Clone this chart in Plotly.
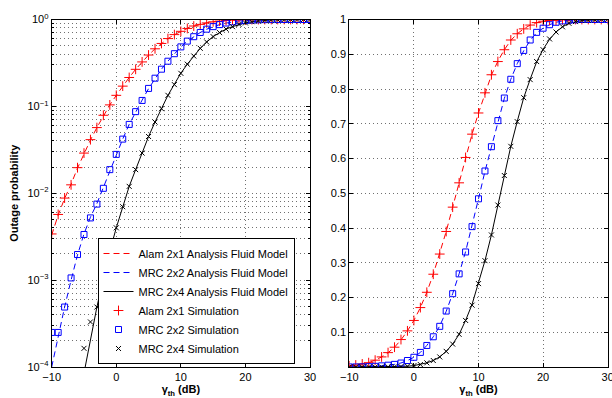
import plotly.graph_objects as go

# ---------------- data ----------------
gamma_db = list(range(-10, 31))

# Simulation points (0 = no outage observed; hidden on the log axis)
alam21_sim = [3.4e-3, 5.7e-3, 8.8e-3, 0.0125, 0.0197, 0.029, 0.0414, 0.057, 0.079, 0.104,
              0.134, 0.171, 0.215, 0.267, 0.325, 0.390, 0.460, 0.530, 0.603, 0.670,
              0.731, 0.789, 0.841, 0.879, 0.913, 0.941, 0.959, 0.973, 0.984, 0.991,
              0.995, 0.997, 0.998, 0.999, 0.9995, 1.0, 1.0, 1.0, 1.0, 1.0, 1.0]
mrc22_sim = [2.5e-4, 2.5e-4, 4.9e-4, 1.06e-3, 1.97e-3, 3.35e-3, 5.2e-3, 7.5e-3, 0.0114, 0.0187,
             0.028, 0.042, 0.062, 0.087, 0.117, 0.161, 0.211, 0.268, 0.331, 0.404,
             0.484, 0.564, 0.634, 0.709, 0.774, 0.828, 0.873, 0.911, 0.941, 0.963,
             0.975, 0.985, 0.992, 0.996, 0.998, 0.999, 1.0, 1.0, 1.0, 1.0, 1.0]
mrc24_sim = [0, 0, 0, 0, 0, 1.64e-4, 3.3e-4, 4.9e-4, 1.15e-3, 2.15e-3,
             4.0e-3, 7.0e-3, 0.012, 0.0187, 0.029, 0.045, 0.066, 0.094, 0.134, 0.178,
             0.240, 0.306, 0.380, 0.466, 0.551, 0.635, 0.706, 0.775, 0.827, 0.879,
             0.913, 0.944, 0.964, 0.979, 0.989, 0.994, 0.997, 0.998, 0.999, 1.0, 1.0]

# Analysis (fluid model) curves
alam21_ana = [3.3e-3, 5.6e-3, 8.7e-3, 0.0127, 0.0195, 0.029, 0.041, 0.057, 0.078, 0.104,
              0.134, 0.171, 0.215, 0.267, 0.325, 0.390, 0.460, 0.530, 0.602, 0.670,
              0.731, 0.789, 0.840, 0.880, 0.913, 0.940, 0.959, 0.973, 0.984, 0.991,
              0.995, 0.997, 0.998, 0.999, 0.9995, 1.0, 1.0, 1.0, 1.0, 1.0, 1.0]
mrc22_ana = [1.0e-4, 2.3e-4, 4.9e-4, 1.0e-3, 1.95e-3, 3.4e-3, 5.3e-3, 7.6e-3, 0.0116, 0.0185,
             0.028, 0.042, 0.062, 0.087, 0.118, 0.160, 0.211, 0.268, 0.332, 0.405,
             0.484, 0.563, 0.635, 0.708, 0.773, 0.828, 0.873, 0.910, 0.940, 0.962,
             0.975, 0.985, 0.992, 0.996, 0.998, 0.999, 1.0, 1.0, 1.0, 1.0, 1.0]
mrc24_ana = [1.5e-6, 3.5e-6, 8.0e-6, 1.8e-5, 4.0e-5, 8.5e-5, 2.1e-4, 4.9e-4, 1.05e-3, 2.15e-3,
             4.0e-3, 7.0e-3, 0.012, 0.0187, 0.029, 0.045, 0.066, 0.094, 0.134, 0.180,
             0.241, 0.306, 0.380, 0.465, 0.551, 0.635, 0.707, 0.775, 0.828, 0.878,
             0.914, 0.943, 0.964, 0.979, 0.989, 0.994, 0.997, 0.998, 0.999, 1.0, 1.0]

x_ticks = [-10, 0, 10, 20, 30]
log_ticks = [1e-4, 1e-3, 1e-2, 1e-1, 1]
log_labels = ["10<sup>\u22124</sup>", "10<sup>\u22123</sup>", "10<sup>\u22122</sup>",
              "10<sup>\u22121</sup>", "10<sup>0</sup>"]
lin_ticks = [0, 0.1, 0.2, 0.3, 0.4, 0.5, 0.6, 0.7, 0.8, 0.9, 1]
lin_labels = ["", "0.1", "0.2", "0.3", "0.4", "0.5", "0.6", "0.7", "0.8", "0.9", "1"]

names_ana = ["Alam 2x1 Analysis Fluid Model", "MRC 2x2 Analysis Fluid Model",
             "MRC 2x4 Analysis Fluid Model"]
names_sim = ["Alam 2x1 Simulation", "MRC 2x2 Simulation", "MRC 2x4 Simulation"]

# ---------------- styles ----------------
FONT = "Liberation Sans, Arial, Helvetica, sans-serif"
colors = ["#ff0000", "#0000ff", "#000000"]
dashes = ["6px,4px", "6px,4px", "solid"]
symbols = ["cross-thin-open", "square-open", "x-thin-open"]
msizes = [7, 6, 5]

fig = go.Figure()
ana = [alam21_ana, mrc22_ana, mrc24_ana]
sim = [alam21_sim, mrc22_sim, mrc24_sim]

for (xa, ya, show) in [("x", "y", True), ("x2", "y2", False)]:
    for i in range(3):
        fig.add_trace(go.Scatter(
            x=gamma_db, y=ana[i], mode="lines", name=names_ana[i],
            line=dict(color=colors[i], width=1, dash=dashes[i]),
            xaxis=xa, yaxis=ya, showlegend=show, legendrank=i + 1))
    for i in range(3):
        fig.add_trace(go.Scatter(
            x=gamma_db, y=sim[i], mode="markers", name=names_sim[i],
            marker=dict(symbol=symbols[i], size=msizes[i], color=colors[i],
                        line=dict(color=colors[i], width=1)),
            xaxis=xa, yaxis=ya, showlegend=show, legendrank=i + 4))

minor_vals = []
for d in [1e-4, 1e-3, 1e-2, 1e-1]:
    for k in range(2, 10):
        minor_vals.append(k * d)

GRID = "#707070"
GDASH = "1px,3px"
axis_common = dict(showline=True, linecolor="black", linewidth=1, mirror="ticks",
                   ticks="inside", ticklen=4, tickcolor="black", automargin=False,
                   showgrid=True, gridcolor=GRID, gridwidth=1, griddash=GDASH,
                   zeroline=False, tickfont=dict(size=11, color="black", family=FONT))

ydom = [1 - 367.0 / 398, 1 - 19.5 / 398]
fig.update_layout(
    width=612, height=398,
    margin=dict(l=0, r=0, t=0, b=0, autoexpand=False),
    paper_bgcolor="white", plot_bgcolor="white",
    font=dict(family=FONT, size=11, color="black"),
    xaxis=dict(domain=[51.7 / 612, 310.0 / 612], range=[-10, 30],
               tickvals=x_ticks, anchor="y",
               title=dict(text="<b>\u03b3<sub>th</sub> (dB)</b>", font=dict(size=11), standoff=0),
               **axis_common),
    yaxis=dict(domain=ydom, type="log", range=[-4, 0], anchor="x",
               tickvals=log_ticks, ticktext=log_labels,
               minor=dict(tickvals=minor_vals, ticks="inside", ticklen=2, tickcolor="black",
                          showgrid=True, gridcolor=GRID, griddash=GDASH, gridwidth=1),
               title=dict(text="<b>Outage probability</b>", font=dict(size=11), standoff=6),
               **axis_common),
    xaxis2=dict(domain=[349.3 / 612, 607.7 / 612], range=[-10, 30],
                tickvals=x_ticks, anchor="y2", ticklabeloverflow="allow",
                title=dict(text="<b>\u03b3<sub>th</sub> (dB)</b>", font=dict(size=11), standoff=0),
                **axis_common),
    yaxis2=dict(domain=ydom, range=[0, 1], anchor="x2",
                tickvals=lin_ticks, ticktext=lin_labels,
                **axis_common),
    legend=dict(x=97.5 / 612, y=1 - 238.0 / 398, xanchor="left", yanchor="top",
                bgcolor="white", bordercolor="black", borderwidth=1,
                font=dict(size=11, family=FONT, color="black"),
                tracegroupgap=0, itemwidth=30),
)

fig.write_html("out.html")
